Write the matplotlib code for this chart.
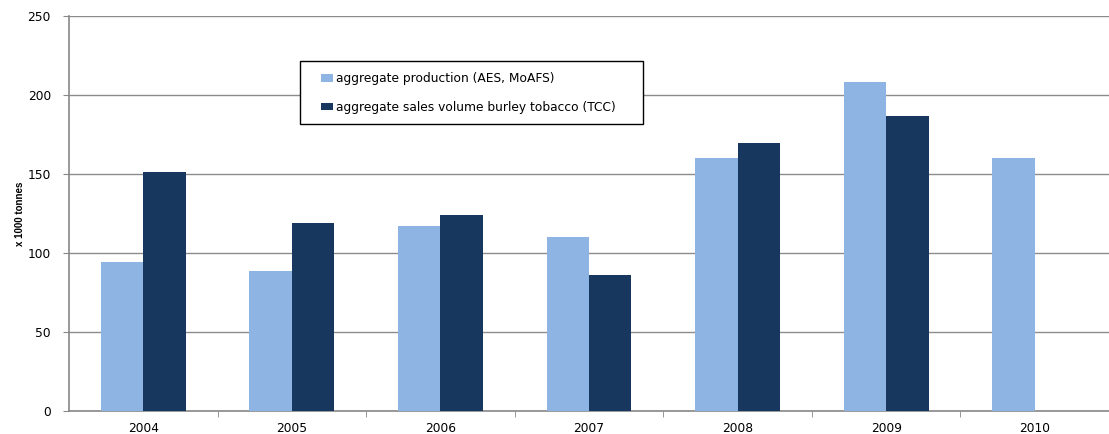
import matplotlib
matplotlib.use("Agg")
import matplotlib.pyplot as plt
import numpy as np
from matplotlib.patches import Rectangle

years = ["2004", "2005", "2006", "2007", "2008", "2009", "2010"]
production = [94.3, 88.7, 117.1, 110.3, 160.3, 208.2, 160.3]
sales = [151.3, 119.2, 124.1, 86.3, 169.4, 186.6, np.nan]
yticks = [0, 50, 100, 150, 200, 250]

light = "#8EB4E3"
dark = "#17375E"

W, H = 1109, 434
fig = plt.figure(figsize=(W/100, H/100), dpi=100)
ax_l, ax_r, ax_t, ax_b = 69, 1109, 16, 411
ax = fig.add_axes([ax_l/W, 1 - ax_b/H, (ax_r-ax_l)/W, (ax_b-ax_t)/H])

def axfx(px):
    return (px - ax_l) / (ax_r - ax_l)

def axfy(py):
    return (ax_b - py) / (ax_b - ax_t)

x = np.arange(len(years))
w = 1 / 3.5
ax.bar(x - w/2, production, width=w, color=light, edgecolor="none", zorder=3,
       label="aggregate production (AES, MoAFS)")
ax.bar(x + w/2, sales, width=w, color=dark, edgecolor="none", zorder=3,
       label="aggregate sales volume burley tobacco (TCC)")

ax.set_xlim(-0.5, len(years) - 0.5)
ax.set_ylim(0, 250)
ax.set_yticks(yticks)
ax.set_yticklabels([str(t) for t in yticks], fontsize=8.8)
ax.set_xticks(x)
ax.set_xticklabels(years, fontsize=8.8)
ax.tick_params(axis="x", which="major", length=0, pad=8)
ax.set_xticks(np.arange(0.5, len(years) - 0.5, 1), minor=True)
ax.tick_params(axis="x", which="minor", length=4, color="#888888", direction="out")
ax.tick_params(axis="y", length=4, color="#888888", direction="out", pad=9)
ax.yaxis.grid(True, color="#8c8c8c", linewidth=1.0, zorder=0)
ax.set_axisbelow(True)
for s in ["top", "right"]:
    ax.spines[s].set_visible(False)
for s in ["left", "bottom"]:
    ax.spines[s].set_color("#888888")
    ax.spines[s].set_linewidth(1.2)

ax.set_ylabel("x 1000 tonnes", fontsize=7, fontweight="bold",
              family=["Liberation Sans Narrow", "Liberation Sans", "DejaVu Sans"],
              labelpad=2)

# legend: frameless legend plus a drawn box
leg = ax.legend(loc="upper left", bbox_to_anchor=(axfx(321), axfy(72)), frameon=False,
                fontsize=8.8, handlelength=1.0, handleheight=0.6, handletextpad=0.25,
                labelspacing=1.3, borderpad=0, borderaxespad=0)
box = Rectangle((axfx(300), axfy(124)), axfx(643) - axfx(300), axfy(61) - axfy(124),
                transform=ax.transAxes, facecolor="white", edgecolor="black",
                linewidth=1.0, zorder=4)
ax.add_patch(box)
leg.set_zorder(5)

fig.savefig("out.png", dpi=100)
